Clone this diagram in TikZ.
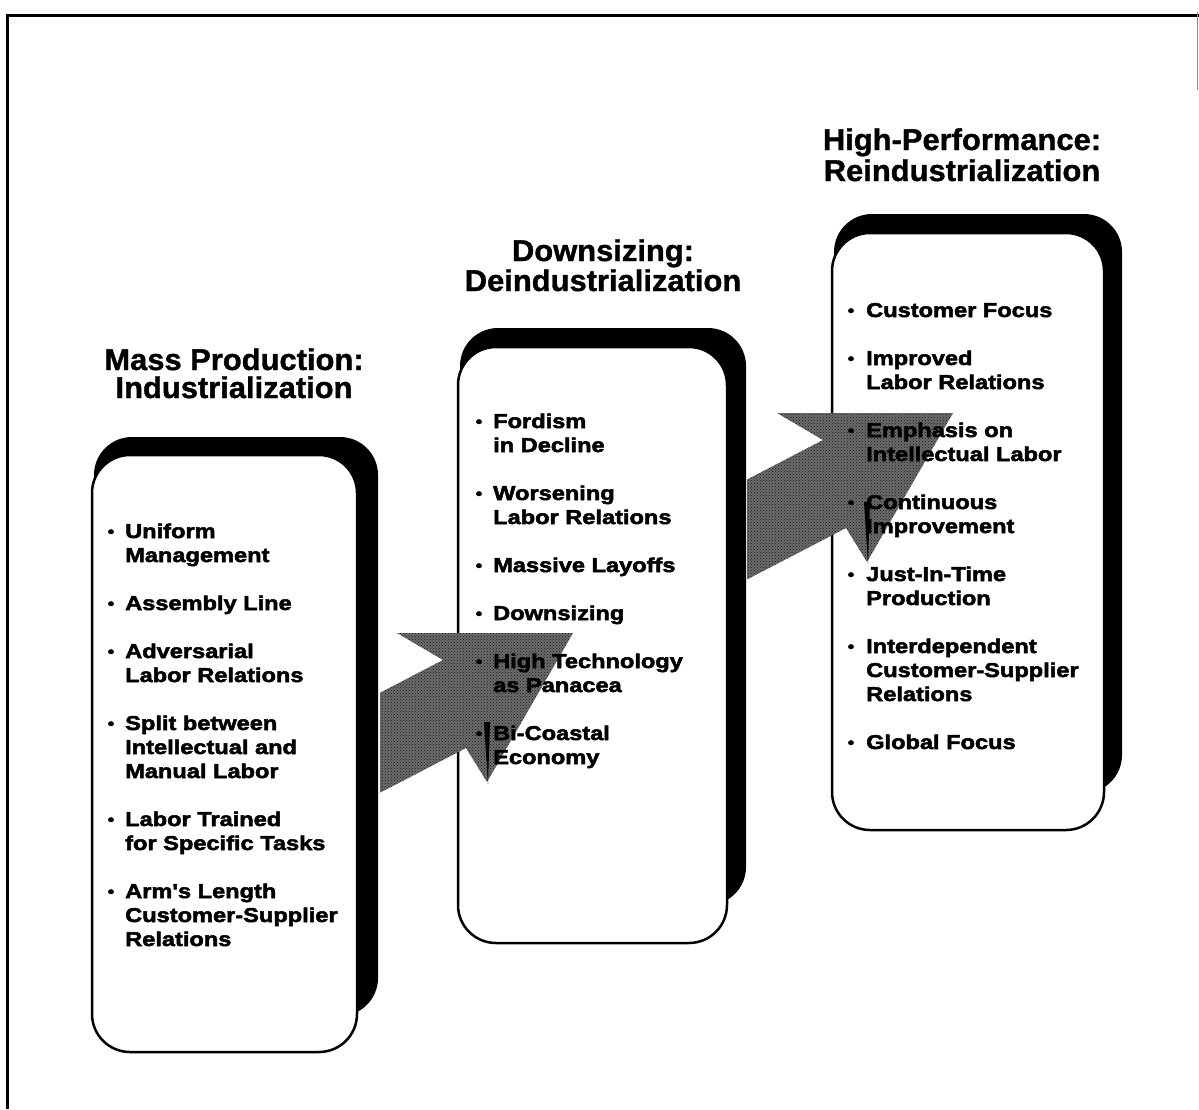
\documentclass[tikz,border=0pt]{standalone}
\usepackage{fontspec}
\setmainfont{Liberation Sans}
\newfontfamily\titlefont{Liberation Sans}[UprightFont=* Bold, FakeStretch=1.03, FakeBold=1.2]
\newfontfamily\bulfont{Liberation Sans}[UprightFont=* Bold, FakeStretch=1.18, FakeBold=2.5]
\usetikzlibrary{patterns}
\begin{document}
\begin{tikzpicture}[x=1pt,y=-1pt,
  shadowbox/.style={fill=black, rounded corners=38pt},
  frontbox/.style={draw=black, line width=2.5pt, fill=white, rounded corners=38pt, inner sep=0pt, outer sep=0pt},
  bigarrow/.style={fill=black!58},
  speckle/.style={pattern=crosshatch dots, pattern color=black!90},
  titletext/.style={font=\titlefont\fontsize{30}{30}\selectfont, inner sep=0pt, anchor=base},
  btext/.style={font=\bulfont\fontsize{20}{24}\selectfont, inner sep=0pt, anchor=base west},
  bdot/.style={font=\bulfont\fontsize{16}{24}\selectfont, inner sep=0pt, anchor=base},
  framepen/.style={line width=3pt}
]
\useasboundingbox (0,0) rectangle (1199,1109);

% outer frame
\draw[framepen] (7,1109) -- (7,15) -- (1199,15);
\draw[line width=1pt, black!45] (1197,12) -- (1197,90);

% shadows and boxes
\fill[shadowbox] (94,437) rectangle (378,1016);
\node[frontbox, minimum width=265pt, minimum height=597pt] (box1) at (224.5,753.5) {};
\fill[shadowbox] (460,328) rectangle (746,905);
\node[frontbox, minimum width=269pt, minimum height=596pt] (box2) at (592.5,645) {};
\fill[shadowbox] (834,214) rectangle (1122,793);
\node[frontbox, minimum width=272pt, minimum height=597pt] (box3) at (968,531.5) {};

% big shaded arrows
\foreach \dx/\dy/\lx/\nm in {0/0/380/arrowA, 380/-220/747/arrowB}{
  \begin{scope}[shift={(\dx,\dy)}]
    \path[bigarrow] (397,633) -- (573,633) -- (487,782) -- (466,748)
      -- ({\lx-\dx},{748+0.52*(466-\lx+\dx)}) -- ({\lx-\dx},{660+0.52*(443-\lx+\dx)}) -- (443,660) -- cycle;
    \path[speckle] (397,633) -- (573,633) -- (487,782) -- (466,748)
      -- ({\lx-\dx},{748+0.52*(466-\lx+\dx)}) -- ({\lx-\dx},{660+0.52*(443-\lx+\dx)}) -- (443,660) -- cycle;
    \fill (484,722) -- (490,722) -- (488,784) -- cycle;
  \end{scope}
}

% titles
\node[titletext] (t1a) at (234,370) {Mass Production:};
\node[titletext] (t1b) at (234,398) {Industrialization};
\node[titletext] (t2a) at (603,261) {Downsizing:};
\node[titletext] (t2b) at (603,291) {Deindustrialization};
\node[titletext] (t3a) at (962,150) {High-Performance:};
\node[titletext] (t3b) at (962,181) {Reindustrialization};

% box 1 items
\foreach \n/\b/\t [count=\i] in {0/1/Uniform, 1/0/Management, 3/1/Assembly Line,
   5/1/Adversarial, 6/0/Labor Relations, 8/1/Split between, 9/0/Intellectual and,
   10/0/Manual Labor, 12/1/Labor Trained, 13/0/for Specific Tasks,
   15/1/Arm's Length, 16/0/Customer-Supplier, 17/0/Relations}{
  \node[btext] (a\i) at (125,{538+24*\n}) {\t};
  \ifnum\b=1 \node[bdot] (ab\i) at (111,{537+24*\n}) {•}; \fi
}

% box 2 items
\foreach \n/\b/\t [count=\i] in {0/1/Fordism, 1/0/in Decline, 3/1/Worsening,
   4/0/Labor Relations, 6/1/Massive Layoffs, 8/1/Downsizing, 10/1/High Technology,
   11/0/as Panacea, 13/1/Bi-Coastal, 14/0/Economy}{
  \node[btext] (b\i) at (493,{428+24*\n}) {\t};
  \ifnum\b=1 \node[bdot] (bb\i) at (479,{427+24*\n}) {•}; \fi
}

% box 3 items
\foreach \n/\b/\t [count=\i] in {0/1/Customer Focus, 2/1/Improved, 3/0/Labor Relations,
   5/1/Emphasis on, 6/0/Intellectual Labor, 8/1/Continuous, 9/0/Improvement,
   11/1/Just-In-Time, 12/0/Production, 14/1/Interdependent, 15/0/Customer-Supplier,
   16/0/Relations, 18/1/Global Focus}{
  \node[btext] (c\i) at (866,{317+24*\n}) {\t};
  \ifnum\b=1 \node[bdot] (cb\i) at (851,{316+24*\n}) {•}; \fi
}
\end{tikzpicture}
\end{document}
